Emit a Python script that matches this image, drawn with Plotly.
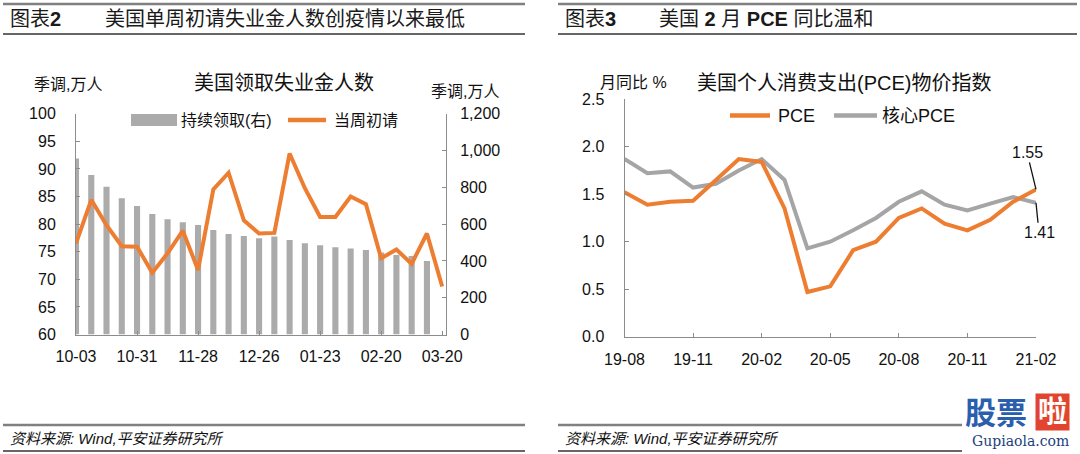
import plotly.graph_objects as go

# ---- data: chart 2 (weekly, 万人) ----
weeks = ["10-03", "10-10", "10-17", "10-24", "10-31", "11-07", "11-14", "11-21",
         "11-28", "12-05", "12-12", "12-19", "12-26", "01-02", "01-09", "01-16",
         "01-23", "01-30", "02-06", "02-13", "02-20", "02-27", "03-06", "03-13", "03-20"]
initial_claims = [76.5, 84.4, 79.8, 76.0, 75.9, 71.2, 74.7, 78.8, 71.7, 86.3, 89.3, 80.7,
                  78.3, 78.4, 92.8, 86.5, 81.3, 81.3, 85.0, 83.6, 73.8, 75.4, 72.8, 78.3, 68.7]
continued_claims = [957, 867, 803, 740, 698, 655, 626, 610, 595, 568, 546, 535,
                    523, 532, 514, 496, 485, 474, 468, 459, 445, 432, 427, 400, None]
week_ticks = ["10-03", "10-31", "11-28", "12-26", "01-23", "02-20", "03-20"]

# ---- data: chart 3 (monthly, 同比 %) ----
months = ["19-08", "19-09", "19-10", "19-11", "19-12", "20-01", "20-02", "20-03", "20-04",
          "20-05", "20-06", "20-07", "20-08", "20-09", "20-10", "20-11", "20-12", "21-01", "21-02"]
pce = [1.52, 1.39, 1.42, 1.43, 1.65, 1.87, 1.84, 1.35, 0.47, 0.53, 0.91, 1.00,
       1.25, 1.35, 1.19, 1.12, 1.23, 1.42, 1.55]
core_pce = [1.87, 1.72, 1.74, 1.57, 1.61, 1.75, 1.87, 1.65, 0.93, 1.00, 1.12, 1.25,
            1.42, 1.53, 1.39, 1.33, 1.40, 1.47, 1.41]
month_ticks = ["19-08", "19-11", "20-02", "20-05", "20-08", "20-11", "21-02"]

W, H = 1080, 454
ORANGE = "#ED7D31"
GREY = "#A5A5A5"
AXIS = "#8C8C8C"
FONT = "Liberation Sans, Arial, Noto Sans CJK SC"


def px(v):
    return v / W


def py(v):
    return 1 - v / H


fig = go.Figure()

# chart 2: bars on the primary (right) axis so the line sits on top
fig.add_trace(go.Bar(x=weeks[:-1], y=continued_claims[:-1], width=0.4,
                     marker_color="#ABABAB", marker_line_width=0,
                     xaxis="x", yaxis="y", name="持续领取(右)"))
fig.add_trace(go.Scatter(x=weeks, y=initial_claims, mode="lines",
                         line=dict(color=ORANGE, width=4),
                         xaxis="x", yaxis="y2", name="当周初请"))

# chart 3
fig.add_trace(go.Scatter(x=months, y=core_pce, mode="lines",
                         line=dict(color=GREY, width=4),
                         xaxis="x3", yaxis="y3", name="核心PCE"))
fig.add_trace(go.Scatter(x=months, y=pce, mode="lines",
                         line=dict(color=ORANGE, width=4),
                         xaxis="x3", yaxis="y3", name="PCE"))

tick_font = dict(family=FONT, size=16, color="#111")
common = dict(showline=True, linecolor=AXIS, linewidth=1, ticks="inside",
              ticklen=4, tickcolor=AXIS, showgrid=False, zeroline=False,
              tickfont=tick_font, fixedrange=True, automargin=False)

left_dom = [px(76), px(446)]
left_ydom = [py(334.5), py(113.7)]
right_dom = [px(624.5), px(1036)]
right_ydom = [py(336.7), py(99.2)]

fig.update_layout(
    width=W, height=H,
    margin=dict(l=0, r=0, t=0, b=0, pad=0),
    paper_bgcolor="white", plot_bgcolor="white",
    showlegend=False,
    font=dict(family=FONT, color="#111"),
    xaxis=dict(domain=left_dom, anchor="y", type="category",
               categoryorder="array", categoryarray=weeks,
               range=[0, 24.25], tickmode="array", tickvals=week_ticks,
               ticklabelstandoff=7, **common),
    yaxis=dict(domain=left_ydom, anchor="x", side="right",
               range=[0, 1200], dtick=200, tickformat=",d",
               ticklabelstandoff=10, **common),
    yaxis2=dict(overlaying="y", anchor="x", side="left",
                range=[60, 100], dtick=5,
                ticklabelstandoff=16, **common),
    xaxis3=dict(domain=right_dom, anchor="y3", type="category",
                categoryorder="array", categoryarray=months,
                range=[0, 18], tickmode="array", tickvals=month_ticks,
                ticklabelstandoff=8, **common),
    yaxis3=dict(domain=right_ydom, anchor="x3", range=[0, 2.5], dtick=0.5,
                tickformat=".1f", ticklabelstandoff=16, **common),
)

ann = []


def text(x, y, s, size=16, xanchor="center", color="#111", **kw):
    ann.append(dict(x=px(x), y=py(y), xref="paper", yref="paper", text=s,
                    showarrow=False, xanchor=xanchor, yanchor="middle",
                    font=dict(family=FONT, size=size, color=color, **kw)))


# headers
text(8, 19, "图表<b>2</b>", size=20, xanchor="left", color="#1a1a1a")
text(103, 19, "美国单周初请失业金人数创疫情以来最低", size=20, xanchor="left", color="#1a1a1a")
text(563, 19, "图表<b>3</b>", size=20, xanchor="left", color="#1a1a1a")
text(657, 19, "美国 <b>2</b> 月 <b>PCE</b> 同比温和", size=20, xanchor="left", color="#1a1a1a")

# chart 2 texts
text(284, 82.5, "美国领取失业金人数", size=20)
text(32, 84, "季调,万人", size=16, xanchor="left")
text(429, 91, "季调,万人", size=16, xanchor="left")
text(179, 120, "持续领取(右)", size=16, xanchor="left")
text(332, 120, "当周初请", size=16, xanchor="left")

# chart 3 texts
text(598, 82.5, "月同比 %", size=16, xanchor="left")
text(844, 82.5, "美国个人消费支出(PCE)物价指数", size=20)
text(776, 115.5, "PCE", size=18, xanchor="left")
text(880, 115.5, "核心PCE", size=18, xanchor="left")

# footers
text(8, 438, "资料来源: Wind,平安证券研究所", size=15, xanchor="left", style="italic")
text(563, 438, "资料来源: Wind,平安证券研究所", size=15, xanchor="left", style="italic")

# end-value labels
ann.append(dict(x=months[-1], y=pce[-1], xref="x3", yref="y3", text=f"{pce[-1]:.2f}",
                showarrow=True, arrowhead=0, arrowwidth=1.3, arrowcolor="#111",
                ax=-9, ay=-37, standoff=0, font=dict(family=FONT, size=16, color="#111")))
ann.append(dict(x=months[-1], y=core_pce[-1], xref="x3", yref="y3",
                text=f"{core_pce[-1]:.2f}",
                showarrow=True, arrowhead=0, arrowwidth=1.3, arrowcolor="#111",
                ax=3, ay=30, standoff=0, font=dict(family=FONT, size=16, color="#111")))

# watermark
text(996, 413, "<b>股票</b>", size=31, color="#2B5FAE")
ann.append(dict(x=px(1052), y=py(412), xref="paper", yref="paper", text="<b>啦</b>",
                showarrow=False, bgcolor="#E2452F", borderpad=2,
                xanchor="center", yanchor="middle",
                font=dict(family=FONT, size=29, color="white")))
text(1020, 441, "Gupiaola.com", size=14, color="#1D3F7A")
ann[-1]["font"]["family"] = "DejaVu Serif"

fig.update_layout(annotations=ann)

shapes = []


def hline(x0, x1, y, color, width):
    shapes.append(dict(type="line", xref="paper", yref="paper",
                       x0=px(x0), x1=px(x1), y0=py(y), y1=py(y),
                       line=dict(color=color, width=width)))


for x0, x1 in [(3, 525), (558, 1077)]:
    hline(x0, x1, 4, "#808080", 2.5)
    hline(x0, x1, 34, "#333333", 1.3)
for x0, x1 in [(3, 525), (558, 962)]:
    hline(x0, x1, 425, "#808080", 2.5)
    hline(x0, x1, 451, "#333333", 1.3)

# legend swatches
shapes.append(dict(type="rect", xref="paper", yref="paper",
                   x0=px(131), x1=px(177), y0=py(126), y1=py(114),
                   fillcolor="#ABABAB", line_width=0))
for x0, x1, y, c in [(288, 326, 120, ORANGE), (730, 770, 115.5, ORANGE), (834, 877, 115.5, GREY)]:
    hline(x0, x1, y, c, 4.5)

fig.update_layout(shapes=shapes)

# drop the browser's default 8px body margin so the figure sits at the page origin
fig.write_html("out.html", config={"displayModeBar": False},
               post_script="document.body.style.margin='0';")
